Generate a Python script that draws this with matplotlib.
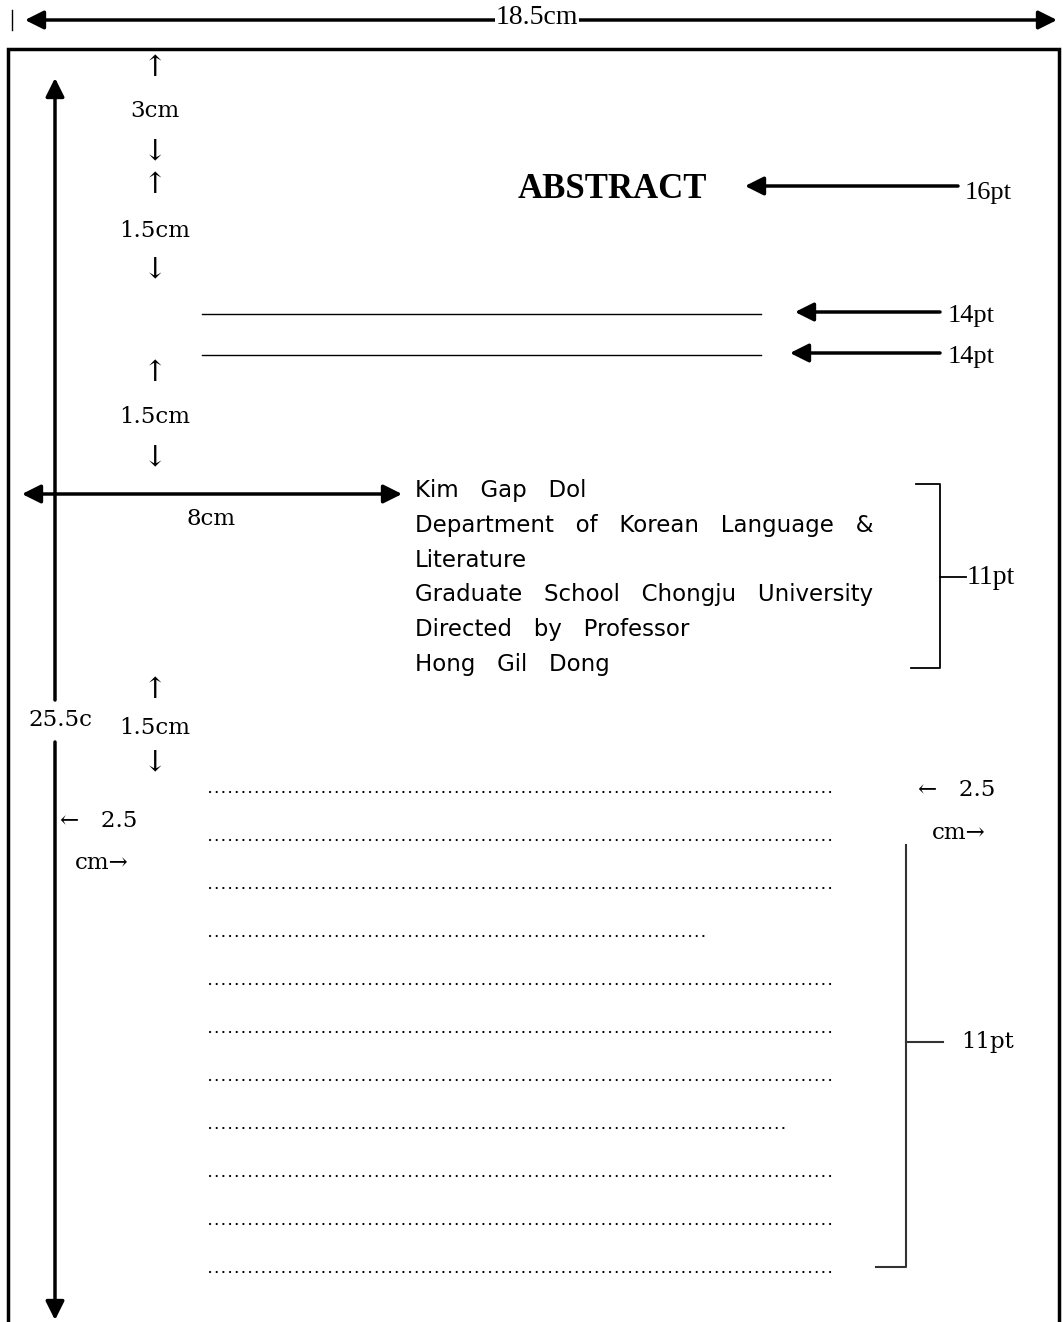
import numpy as np
import matplotlib.pyplot as plt

# text content of the layout sheet
page_width_label = "18.5cm"
page_height_label = "25.5c"
title = "ABSTRACT"
gap_labels = ["3cm", "1.5cm", "1.5cm", "1.5cm"]
title_size_label = "16pt"
subtitle_size_labels = ["14pt", "14pt"]
author_size_label = "11pt"
body_size_label = "11pt"
indent_label = "8cm"
margin_label = ["←   2.5", "cm→"]
author_lines = ["Kim   Gap   Dol",
                "Department   of   Korean   Language   &",
                "Literature",
                "Graduate   School   Chongju   University",
                "Directed   by   Professor",
                "Hong   Gil   Dong"]
# fraction of the full width filled by each dotted body line
body_line_fill = [1, 1, 1, 0.8, 1, 1, 1, 0.925, 1, 1, 1]

W, H = 1063, 1322
fig = plt.figure(figsize=(W / 100, H / 100), dpi=100)
ax = fig.add_axes([0, 0, 1, 1])
ax.set_xlim(0, W)
ax.set_ylim(H, 0)
ax.axis('off')

serif = ['DejaVu Serif', 'DejaVu Sans']
times = ['Liberation Serif', 'DejaVu Serif']
big = dict(arrowstyle='-|>', lw=2.5, color='black', mutation_scale=28, shrinkA=0, shrinkB=0)
both = dict(arrowstyle='<|-|>', lw=2.5, color='black', mutation_scale=28, shrinkA=0, shrinkB=0)

def arrow(x0, y0, x1, y1, props=big):
    ax.annotate('', xy=(x1, y1), xytext=(x0, y0), arrowprops=props)

# page width
ax.plot([12, 12], [10, 30], color='black', lw=1)
arrow(25, 20, 1057, 20, both)
ax.text(537, 18, page_width_label, fontsize=20, family=times, ha='center', va='center',
        bbox=dict(facecolor='white', edgecolor='none', pad=0.5))

# page frame
ax.plot([8, 8, 1059, 1059], [1330, 49, 49, 1330], color='black', lw=2.5, solid_joinstyle='miter')

# page height
arrow(55, 700, 55, 78)
arrow(55, 742, 55, 1320)
ax.text(60, 720, page_height_label, fontsize=16.5, family=serif, ha='center', va='center')

# vertical gaps
gap_pos = [(68, 111, 152), (185, 231, 270), (373, 417, 458), (690, 728, 763)]
for lab, (yu, ym, yd) in zip(gap_labels, gap_pos):
    ax.text(155, yu, '↑', fontsize=21, family=serif, ha='center', va='center')
    ax.text(155, ym, lab, fontsize=16.5, family=serif, ha='center', va='center')
    ax.text(155, yd, '↓', fontsize=21, family=serif, ha='center', va='center')

# title
ax.text(612, 190, title, fontsize=25, family=times, weight='bold', ha='center', va='center')
arrow(958, 186, 745, 186)
ax.text(965, 193, title_size_label, fontsize=19, family=times, ha='left', va='center')

# subtitle lines
for y, x_tip, lab in zip([314, 355], [795, 790], subtitle_size_labels):
    ax.plot([202, 761], [y, y], color='black', lw=1)
    arrow(940, y - 2, x_tip, y - 2)
    ax.text(948, y + 2, lab, fontsize=19, family=times, ha='left', va='center')

# author block
arrow(402, 494, 22, 494, both)
ax.text(211, 519, indent_label, fontsize=16.5, family=serif, ha='center', va='center')
for i, line in enumerate(author_lines):
    ax.text(415, 491 + i * 34.6, line, fontsize=16.5, family=['DejaVu Sans'],
            ha='left', va='center')
ax.plot([916, 940, 940, 911], [484, 484, 668, 668], color='black', lw=1.3)
ax.plot([940, 966], [577, 577], color='black', lw=1.3)
ax.text(967, 577, author_size_label, fontsize=20, family=times, ha='left', va='center')

# body dotted lines
full = 833 - 210
for i, f in enumerate(body_line_fill):
    y = 792 + i * 48
    ax.plot([210, 210 + full * f], [y, y], color='black', lw=1.6,
            linestyle=(0, (0.05, 2.95)), dash_capstyle='round')

# margins
ax.text(60, 821, margin_label[0], fontsize=16.5, family=serif, ha='left', va='center')
ax.text(75, 863, margin_label[1], fontsize=16.5, family=serif, ha='left', va='center')
ax.text(918, 790, margin_label[0], fontsize=16.5, family=serif, ha='left', va='center')
ax.text(932, 833, margin_label[1], fontsize=16.5, family=serif, ha='left', va='center')

# body bracket
ax.plot([906, 906, 876], [845, 1267, 1267], color='#333333', lw=1.5)
ax.plot([906, 943], [1042, 1042], color='#333333', lw=1.5)
ax.text(961, 1042, body_size_label, fontsize=16.5, family=serif, ha='left', va='center')

fig.savefig('out.png', dpi=100)
